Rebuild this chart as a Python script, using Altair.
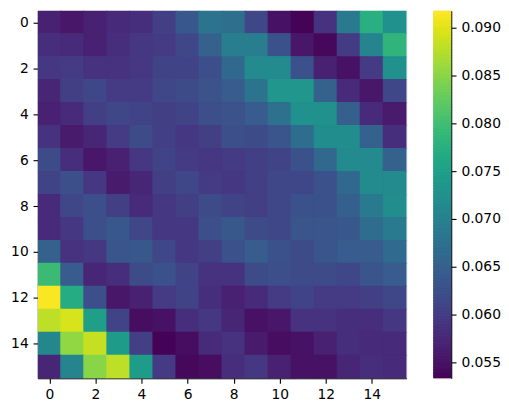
import altair as alt
import numpy as np
import pandas as pd

matrix = [
 [.0567,.0555,.0567,.0578,.0583,.0604,.0638,.0680,.0672,.0614,.0550,.0535,.0588,.0690,.0775,.0725],
 [.0583,.0578,.0567,.0583,.0594,.0599,.0614,.0652,.0695,.0695,.0628,.0555,.0540,.0599,.0705,.0785],
 [.0594,.0599,.0588,.0588,.0594,.0609,.0609,.0624,.0662,.0715,.0715,.0628,.0567,.0550,.0599,.0725],
 [.0573,.0604,.0614,.0599,.0599,.0614,.0619,.0629,.0643,.0680,.0735,.0735,.0652,.0578,.0555,.0614],
 [.0567,.0578,.0604,.0614,.0609,.0604,.0609,.0624,.0629,.0643,.0675,.0725,.0725,.0648,.0578,.0560],
 [.0588,.0560,.0573,.0599,.0619,.0604,.0594,.0604,.0624,.0619,.0633,.0670,.0720,.0720,.0652,.0583],
 [.0619,.0583,.0555,.0567,.0594,.0609,.0599,.0594,.0599,.0604,.0609,.0628,.0662,.0715,.0715,.0652],
 [.0609,.0624,.0594,.0560,.0573,.0604,.0614,.0599,.0594,.0604,.0614,.0614,.0628,.0662,.0715,.0715],
 [.0578,.0614,.0624,.0604,.0578,.0594,.0604,.0619,.0609,.0604,.0614,.0628,.0628,.0648,.0690,.0720],
 [.0578,.0594,.0624,.0638,.0614,.0594,.0594,.0624,.0638,.0619,.0614,.0633,.0633,.0638,.0670,.0690],
 [.0652,.0588,.0594,.0633,.0638,.0614,.0594,.0604,.0628,.0643,.0628,.0619,.0633,.0643,.0643,.0665],
 [.0795,.0643,.0573,.0583,.0619,.0628,.0609,.0588,.0588,.0619,.0624,.0619,.0619,.0614,.0633,.0643],
 [.0915,.0770,.0624,.0555,.0567,.0599,.0609,.0583,.0567,.0578,.0599,.0609,.0599,.0599,.0604,.0614],
 [.0880,.0895,.0750,.0609,.0545,.0550,.0583,.0594,.0573,.0550,.0555,.0588,.0588,.0583,.0583,.0594],
 [.0710,.0855,.0885,.0745,.0604,.0535,.0545,.0578,.0588,.0560,.0545,.0550,.0567,.0583,.0578,.0578],
 [.0573,.0705,.0850,.0880,.0745,.0599,.0540,.0545,.0583,.0594,.0567,.0550,.0550,.0573,.0583,.0578],
]
vmin = 0.0533
vmax = 0.0918
pos_ticks = [0, 2, 4, 6, 8, 10, 12, 14]
bar_ticks = [0.055, 0.060, 0.065, 0.070, 0.075, 0.080, 0.085, 0.090]

rows = []
for r, row in enumerate(matrix):
    for c, v in enumerate(row):
        rows.append({"x0": c - 0.5, "x1": c + 0.5, "y0": r - 0.5, "y1": r + 0.5, "v": v})
df = pd.DataFrame(rows)

edges = np.linspace(vmin, vmax, 129)
bar = pd.DataFrame({"a": edges[:-1], "b": edges[1:], "v": (edges[:-1] + edges[1:]) / 2})

cscale = alt.Scale(scheme="viridis", domain=[vmin, vmax])
color = alt.Color("v:Q", scale=cscale, legend=None)
stroke = alt.Stroke("v:Q", scale=cscale, legend=None)
axis_style = dict(
    grid=False, domainColor="black", tickColor="black", tickSize=4.86, tickWidth=1.1,
    domainWidth=1.1, labelColor="black", labelFontSize=13.9, labelFont="DejaVu Sans",
    labelPadding=4.86, title=None,
)

heat = alt.Chart(df).mark_rect(strokeWidth=1.2, opacity=1, clip=True).encode(
    x=alt.X("x0:Q", scale=alt.Scale(domain=[-0.5, 15.5], nice=False, zero=False),
            axis=alt.Axis(values=pos_ticks, format="d", labelFlush=False, **axis_style)),
    x2="x1:Q",
    y=alt.Y("y0:Q", scale=alt.Scale(domain=[15.5, -0.5], nice=False, zero=False),
            axis=alt.Axis(values=pos_ticks, format="d", labelFlush=False, **axis_style)),
    y2="y1:Q",
    color=color,
    stroke=stroke,
).properties(width=370, height=369)

cbar = alt.Chart(bar).mark_rect(strokeWidth=1.2, opacity=1, clip=True).encode(
    y=alt.Y("a:Q", scale=alt.Scale(domain=[vmin, vmax], nice=False, zero=False),
            axis=alt.Axis(orient="right", values=bar_ticks, format=".3f", labelFlush=False, **axis_style)),
    y2="b:Q",
    color=color,
    stroke=stroke,
).properties(width=18, height=369)

chart = alt.hconcat(heat, cbar, spacing=25).configure_view(
    stroke="black", strokeWidth=1.1
).configure(background="white").properties(
    padding={"left": 2, "top": 1, "right": 0, "bottom": 0}
)
chart.save("out.html", embed_options={"renderer": "svg", "actions": False})
